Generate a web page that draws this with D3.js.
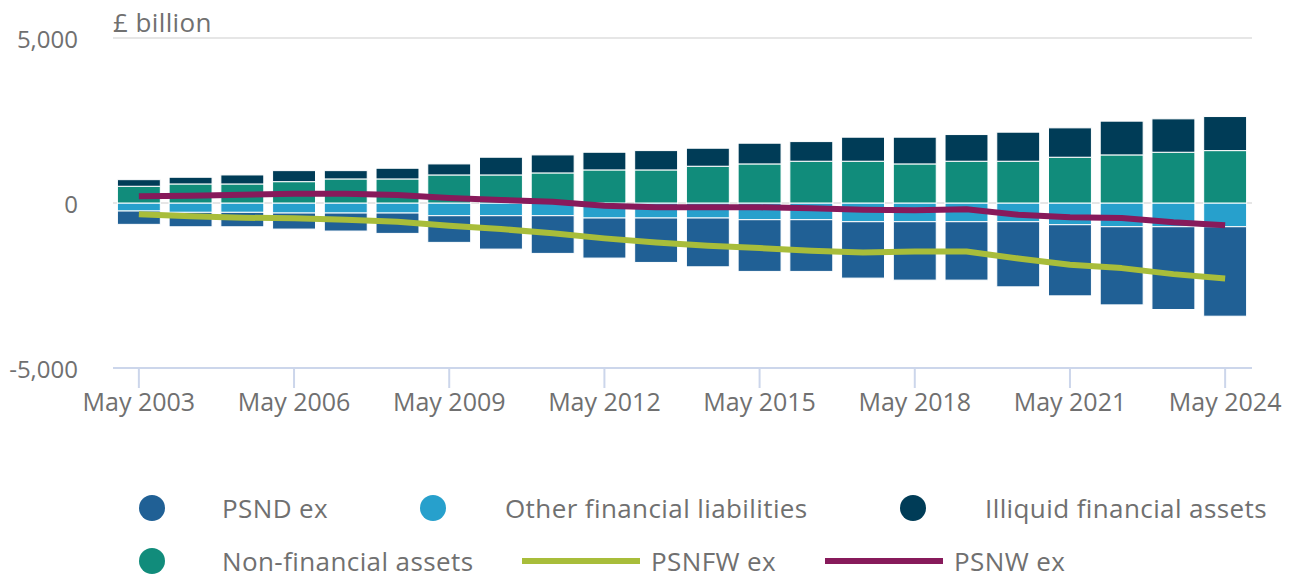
<!DOCTYPE html>
<html>
<head>
<meta charset="utf-8">
<script src="https://d3js.org/d3.v7.min.js"></script>
<style>
  body { margin: 0; background: #fff; }
  text { font-family: "Open Sans", sans-serif; fill: #707070; }
</style>
</head>
<body>
<div id="div_chart"></div>
<script>

// data (£ billion)
var years = ["2003","2004","2005","2006","2007","2008","2009","2010","2011","2012","2013",
             "2014","2015","2016","2017","2018","2019","2020","2021","2022","2023","2024"];
var tickYears = ["2003","2006","2009","2012","2015","2018","2021","2024"];
var yTicks = [-5000, 0, 5000];

var psndEx = [-404,-437,-437,-486,-546,-617,-808,-1012,-1142,-1214,-1346,
              -1478,-1567,-1567,-1709,-1770,-1770,-1973,-2155,-2368,-2508,-2711];
var otherLiabilities = [-243,-283,-283,-304,-304,-304,-385,-385,-385,-455,-455,
                        -455,-506,-506,-567,-567,-567,-567,-658,-719,-719,-719];
var nonFinancial = [507,577,577,647,729,729,850,850,911,1002,1002,
                    1114,1184,1266,1266,1184,1266,1266,1387,1457,1538,1588];
var illiquid = [200,203,273,334,252,324,334,537,546,536,586,
                546,628,595,728,810,808,880,890,1023,1012,1032];
var psnfwEx = [-343,-404,-446,-465,-506,-567,-690,-789,-920,-1072,-1194,
               -1296,-1366,-1448,-1497,-1467,-1467,-1680,-1872,-1973,-2155,-2286];
var psnwEx = [203,222,252,283,283,243,155,91,40,-81,-131,
              -131,-131,-161,-202,-220,-190,-354,-435,-455,-586,-677];

var colors = {
  psnd: "#206095",
  other: "#27a0cc",
  illiquid: "#003c57",
  nonfin: "#118c7b",
  psnfw: "#a8bd3a",
  psnw: "#871a5b"
};

var width = 1292, height = 578;

var svg = d3.select("#div_chart")
  .append("svg")
    .attr("width", width)
    .attr("height", height);

// scales
var x = d3.scaleBand()
  .domain(years)
  .range([113, 1251])
  .paddingInner(0.17)
  .paddingOuter(0.085);

var y = d3.scaleLinear()
  .domain([-5000, 5000])
  .range([368, 38]);

// grid lines
svg.append("g")
  .selectAll("line")
  .data(yTicks.filter(function(d) { return d > -5000; }))
  .enter()
  .append("line")
    .attr("x1", 113)
    .attr("x2", 1252)
    .attr("y1", function(d) { return y(d); })
    .attr("y2", function(d) { return y(d); })
    .style("stroke", "#e6e6e6")
    .style("stroke-width", 2);

// y labels (plain hyphen for negatives, like the original)
svg.append("g")
  .selectAll("text")
  .data(yTicks)
  .enter()
  .append("text")
    .attr("x", 78)
    .attr("y", function(d) { return y(d) + 10; })
    .attr("text-anchor", "end")
    .style("font-size", "24px")
    .text(function(d) { return d3.format(",")(d).replace("\u2212", "-"); });

svg.append("text")
  .attr("x", 113)
  .attr("y", 32)
  .style("font-size", "26px")
  .style("letter-spacing", "0.4px")
  .text("£ billion");

// x axis line, ticks, labels
svg.append("line")
  .attr("x1", 113)
  .attr("x2", 1252)
  .attr("y1", y(-5000))
  .attr("y2", y(-5000))
  .style("stroke", "#ccd6eb")
  .style("stroke-width", 2);

var xt = svg.append("g")
  .selectAll("g")
  .data(tickYears)
  .enter()
  .append("g")
    .attr("transform", function(d) { return "translate(" + (x(d) + x.bandwidth() / 2) + ",0)"; });
xt.append("line")
  .attr("y1", y(-5000))
  .attr("y2", y(-5000) + 20)
  .style("stroke", "#ccd6eb")
  .style("stroke-width", 2);
xt.append("text")
  .attr("y", 411)
  .attr("text-anchor", "middle")
  .style("font-size", "25px")
  .text(function(d) { return "May " + d; });

// stacked bars: positives upward from zero, negatives downward
var barSeries = [
  {key: "other", vals: otherLiabilities},
  {key: "psnd", vals: psndEx},
  {key: "nonfin", vals: nonFinancial},
  {key: "illiquid", vals: illiquid}
];

var rects = [];
years.forEach(function(yr, i) {
  var pos = 0, neg = 0;
  barSeries.forEach(function(s) {
    var v = s.vals[i];
    var y0, y1;
    if (v >= 0) { y0 = pos; y1 = pos + v; pos = y1; }
    else { y0 = neg; y1 = neg + v; neg = y1; }
    rects.push({year: yr, key: s.key, y0: y0, y1: y1});
  });
});

svg.append("g")
  .selectAll("rect")
  .data(rects)
  .enter()
  .append("rect")
    .attr("x", function(d) { return x(d.year); })
    .attr("width", x.bandwidth())
    .attr("y", function(d) { return y(Math.max(d.y0, d.y1)); })
    .attr("height", function(d) { return Math.abs(y(d.y0) - y(d.y1)); })
    .style("fill", function(d) { return colors[d.key]; })
    .style("stroke", "#fff")
    .style("stroke-width", 1);

// lines
var line = d3.line()
  .x(function(d, i) { return x(years[i]) + x.bandwidth() / 2; })
  .y(function(d) { return y(d); });

svg.append("path")
  .datum(psnfwEx)
  .attr("d", line)
  .style("fill", "none")
  .style("stroke", colors.psnfw)
  .style("stroke-width", 6)
  .style("stroke-linejoin", "round");

svg.append("path")
  .datum(psnwEx)
  .attr("d", line)
  .style("fill", "none")
  .style("stroke", colors.psnw)
  .style("stroke-width", 6)
  .style("stroke-linejoin", "round");

// legend
var legend = [
  {name: "PSND ex", key: "psnd", type: "dot", sx: 152, tx: 222, y: 508},
  {name: "Other financial liabilities", key: "other", type: "dot", sx: 433, tx: 505, y: 508},
  {name: "Illiquid financial assets", key: "illiquid", type: "dot", sx: 913, tx: 985, y: 508},
  {name: "Non-financial assets", key: "nonfin", type: "dot", sx: 152, tx: 222, y: 561},
  {name: "PSNFW ex", key: "psnfw", type: "line", sx: 522, tx: 651, y: 561},
  {name: "PSNW ex", key: "psnw", type: "line", sx: 825, tx: 954, y: 561}
];

var lg = svg.append("g")
  .selectAll("g")
  .data(legend)
  .enter()
  .append("g");

lg.filter(function(d) { return d.type == "dot"; })
  .append("circle")
    .attr("cx", function(d) { return d.sx; })
    .attr("cy", function(d) { return d.y; })
    .attr("r", 13)
    .style("fill", function(d) { return colors[d.key]; });

lg.filter(function(d) { return d.type == "line"; })
  .append("line")
    .attr("x1", function(d) { return d.sx; })
    .attr("x2", function(d) { return d.sx + 118; })
    .attr("y1", function(d) { return d.y; })
    .attr("y2", function(d) { return d.y; })
    .style("stroke", function(d) { return colors[d.key]; })
    .style("stroke-width", 6);

lg.append("text")
  .attr("x", function(d) { return d.tx; })
  .attr("y", function(d) { return d.y + 10; })
  .style("font-size", "26px")
  .style("letter-spacing", "0.4px")
  .text(function(d) { return d.name; });

</script>
</body>
</html>
